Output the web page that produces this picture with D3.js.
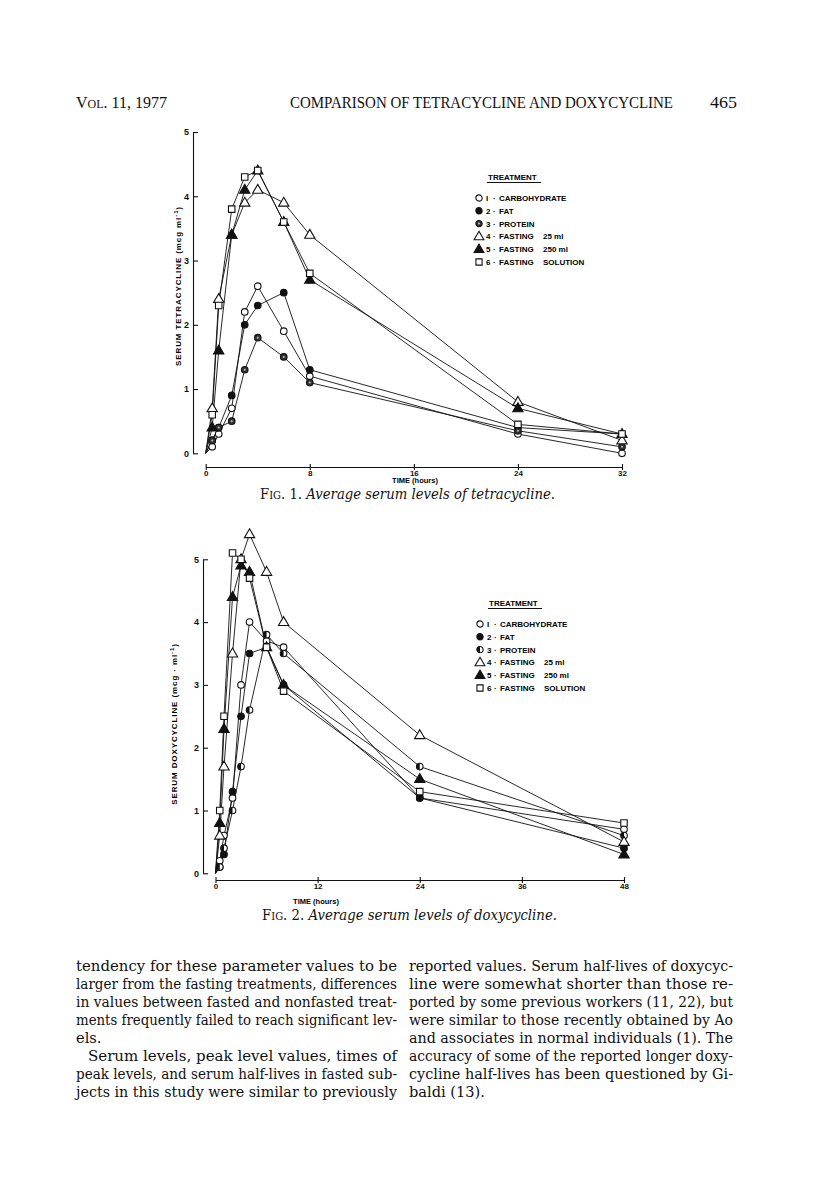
<!DOCTYPE html>
<html>
<head>
<meta charset="utf-8">
<script src="https://cdn.jsdelivr.net/npm/d3@7"></script>
<style>
  body { margin: 0; background: #fff; }
  svg { display: block; }
  .ax text { font-family: "Liberation Sans", Arial, sans-serif; font-weight: bold; font-size: 9px; fill: #111; }
  .ax path, .ax line { stroke: #111; stroke-width: 1.1; }
  .xax text { font-size: 8px; }
  .lbl { font-family: "Liberation Sans", Arial, sans-serif; font-weight: bold; font-size: 8px; fill: #000; }
  .serif { font-family: "DejaVu Serif", "Liberation Serif", serif; fill: #111; }
</style>
</head>
<body>
<div class="page"></div>
<script>
var width = 816, height = 1198;

// ---- data: treatments and legend ----
var treatNums = ["I", "2", "3", "4", "5", "6"];
var treatNames = [["CARBOHYDRATE", ""], ["FAT", ""], ["PROTEIN", ""],
                  ["FASTING", "25 ml"], ["FASTING", "250 ml"], ["FASTING", "SOLUTION"]];
var tetraSymbols = ["openCircle", "filledCircle", "dotCircle", "openTriangle", "filledTriangle", "openSquare"];
var doxySymbols  = ["openCircle", "filledCircle", "halfCircle", "openTriangle", "filledTriangle", "openSquare"];

// ---- Fig 1: tetracycline (mcg/ml) ----
var tetraHours = [0, 0.5, 1, 2, 3, 4, 6, 8, 24, 32];
var tetraCarbohydrate = [0, 0.1, 0.3, 0.7, 2.2, 2.6, 1.9, 1.2, 0.3, 0.0];
var tetraFat          = [0, 0.2, 0.4, 0.9, 2.0, 2.3, 2.5, 1.3, 0.4, 0.3];
var tetraProtein      = [0, 0.2, 0.4, 0.5, 1.3, 1.8, 1.5, 1.1, 0.35, 0.1];
var tetraFasting25    = [0, 0.7, 2.4, 3.4, 3.9, 4.1, 3.9, 3.4, 0.8, 0.2];
var tetraFasting250   = [0, 0.4, 1.6, 3.4, 4.1, 4.4, 3.6, 2.7, 0.7, 0.3];
var tetraSolution     = [0, 0.6, 2.3, 3.8, 4.3, 4.4, 3.6, 2.8, 0.45, 0.3];
var tetraXTicks = [0, 8, 16, 24, 32];

// ---- Fig 2: doxycycline (mcg/ml) ----
var doxyHours = [0, 0.5, 1, 2, 3, 4, 6, 8, 24, 48];
var doxyCarbohydrate = [0, 0.2, 0.6, 1.2, 3.0, 4.0, 3.7, 3.6, 1.2, 0.7];
var doxyFat          = [0, 0.1, 0.3, 1.3, 2.5, 3.5, 3.6, 3.0, 1.2, 0.4];
var doxyProtein      = [0, 0.1, 0.4, 1.0, 1.7, 2.6, 3.8, 3.5, 1.7, 0.6];
var doxyFasting25    = [0, 0.6, 1.7, 3.5, 5.0, 5.4, 4.8, 4.0, 2.2, 0.5];
var doxyFasting250   = [0, 0.8, 2.3, 4.4, 4.9, 4.8, 3.6, 3.0, 1.5, 0.3];
var doxySolution     = [0, 1.0, 2.5, 5.1, 5.0, 4.7, 3.6, 2.9, 1.3, 0.8];
var doxyXTicks = [0, 12, 24, 36, 48];

var yTicks = [0, 1, 2, 3, 4, 5];

// body text lines
var leftLines = [
  "tendency for these parameter values to be",
  "larger from the fasting treatments, differences",
  "in values between fasted and nonfasted treat-",
  "ments frequently failed to reach significant lev-",
  "els.",
  "Serum levels, peak level values, times of",
  "peak levels, and serum half-lives in fasted sub-",
  "jects in this study were similar to previously"
];
var rightLines = [
  "reported values. Serum half-lives of doxycyc-",
  "line were somewhat shorter than those re-",
  "ported by some previous workers (11, 22), but",
  "were similar to those recently obtained by Ao",
  "and associates in normal individuals (1). The",
  "accuracy of some of the reported longer doxy-",
  "cycline half-lives has been questioned by Gi-",
  "baldi (13)."
];

var svg = d3.select(".page").append("svg")
  .attr("width", width).attr("height", height);

// draw one marker symbol
function marker(g, type, x, y, s) {
  s = s || 1;
  var r = 3.3 * s;
  if (type == "openCircle" || type == "filledCircle" || type == "dotCircle") {
    g.append("circle").attr("cx", x).attr("cy", y).attr("r", r)
      .attr("fill", type == "openCircle" ? "#fff" : (type == "dotCircle" ? "#333" : "#111"))
      .attr("stroke", "#111").attr("stroke-width", 1.1);
    if (type == "dotCircle") {
      g.append("circle").attr("cx", x).attr("cy", y).attr("r", 1).attr("fill", "#bbb");
    }
  } else if (type == "halfCircle") {
    g.append("circle").attr("cx", x).attr("cy", y).attr("r", r)
      .attr("fill", "#fff").attr("stroke", "#111").attr("stroke-width", 1.1);
    g.append("path")
      .attr("d", "M" + x + "," + (y - r) + " A" + r + "," + r + " 0 0 0 " + x + "," + (y + r) + " Z")
      .attr("fill", "#111");
  } else if (type == "openTriangle" || type == "filledTriangle") {
    g.append("path")
      .attr("d", d3.symbol().type(d3.symbolTriangle).size(46 * s * s)())
      .attr("transform", "translate(" + x + "," + (y + 0.5) + ")")
      .attr("fill", type == "filledTriangle" ? "#111" : "#fff")
      .attr("stroke", "#111").attr("stroke-width", 1.1);
  } else {
    g.append("path")
      .attr("d", d3.symbol().type(d3.symbolSquare).size(42 * s * s)())
      .attr("transform", "translate(" + x + "," + y + ")")
      .attr("fill", "#fff").attr("stroke", "#111").attr("stroke-width", 1.1);
  }
}

function drawChart(opt) {
  var g = svg.append("g");
  var x = d3.scaleLinear().domain(opt.xDomain).range(opt.xRange);
  var y = d3.scaleLinear().domain([0, 5]).range(opt.yRange);

  // y axis, ticks pointing inward
  g.append("g").attr("class", "ax")
    .attr("transform", "translate(" + opt.yAxisX + ",0)")
    .call(d3.axisLeft(y).tickValues(yTicks).tickSizeInner(-5).tickSizeOuter(0).tickPadding(4).tickFormat(d3.format("d")));

  // x axis, ticks crossing the line
  var xa = g.append("g").attr("class", "ax xax")
    .attr("transform", "translate(0," + opt.xAxisY + ")")
    .call(d3.axisBottom(x).tickValues(opt.xTicks).tickSizeInner(3).tickSizeOuter(0).tickPadding(0).tickFormat(d3.format("d")));
  xa.selectAll(".tick line").attr("y1", -3);

  g.append("text").attr("class", "lbl")
    .attr("x", opt.timeX).attr("y", opt.timeY)
    .attr("text-anchor", "middle")
    .style("font-size", "7.5px")
    .text("TIME  (hours)");

  g.append("text").attr("class", "lbl")
    .attr("transform", "translate(" + opt.yLabelX + "," + opt.yLabelY + ") rotate(-90)")
    .attr("text-anchor", "middle")
    .style("letter-spacing", "0.9px")
    .html(opt.yLabel);

  var line = d3.line()
    .x(function(d) { return x(d[0]); })
    .y(function(d) { return y(d[1]); });

  opt.series.forEach(function(vals, i) {
    var pts = opt.hours.map(function(h, j) { return [h, vals[j]]; });
    g.append("path").datum(pts)
      .attr("d", line)
      .attr("fill", "none").attr("stroke", "#111").attr("stroke-width", 0.9);
  });
  opt.series.forEach(function(vals, i) {
    opt.hours.forEach(function(h, j) {
      if (j == 0) return;
      marker(g, opt.symbols[i], x(h), y(vals[j]));
    });
  });

  // legend
  var lg = g.append("g").attr("transform", "translate(" + opt.legendX + "," + opt.legendY + ")");
  lg.append("text").attr("class", "lbl").attr("x", 9).attr("y", 0).text("TREATMENT");
  lg.append("line").attr("x1", 8).attr("x2", 62).attr("y1", 2.5).attr("y2", 2.5)
    .attr("stroke", "#111").attr("stroke-width", 1);
  treatNums.forEach(function(n, i) {
    var ry = 21 + i * 12.8;
    marker(lg, opt.symbols[i], 0, ry - 3, 0.95);
    lg.append("text").attr("class", "lbl").attr("x", 7).attr("y", ry).text(n);
    lg.append("text").attr("class", "lbl").attr("x", 14).attr("y", ry).text("\u00b7");
    lg.append("text").attr("class", "lbl").attr("x", 20).attr("y", ry).text(treatNames[i][0]);
    lg.append("text").attr("class", "lbl").attr("x", opt.legendCol2).attr("y", ry)
      .text(treatNames[i][1]);
  });
}

drawChart({
  hours: tetraHours,
  series: [tetraCarbohydrate, tetraFat, tetraProtein, tetraFasting25, tetraFasting250, tetraSolution],
  symbols: tetraSymbols,
  xDomain: [0, 32], xRange: [205.7, 622],
  yRange: [453.3, 132],
  xTicks: tetraXTicks,
  yAxisX: 193, xAxisY: 467,
  timeX: 415, timeY: 483,
  yLabelX: 181, yLabelY: 286,
  yLabel: "SERUM  TETRACYCLINE  (mcg  ml<tspan dy='-3' font-size='6'>-1</tspan><tspan dy='3'>)</tspan>",
  legendX: 479, legendY: 180, legendCol2: 64
});

drawChart({
  hours: doxyHours,
  series: [doxyCarbohydrate, doxyFat, doxyProtein, doxyFasting25, doxyFasting250, doxySolution],
  symbols: doxySymbols,
  xDomain: [0, 48], xRange: [215.5, 624],
  yRange: [873.3, 559.3],
  xTicks: doxyXTicks,
  yAxisX: 203, xAxisY: 880,
  timeX: 316, timeY: 904,
  yLabelX: 177, yLabelY: 724,
  yLabel: "SERUM  DOXYCYCLINE  (mcg \u00b7 ml<tspan dy='-3' font-size='6'>-1</tspan><tspan dy='3'>)</tspan>",
  legendX: 480, legendY: 606, legendCol2: 64
});

// running head
var head = svg.append("g").attr("class", "serif").style("font-family", "'Liberation Serif', serif").style("font-size", "16px");
head.append("text").attr("x", 76).attr("y", 108)
  .html("V<tspan font-size='12'>OL</tspan>. 11, 1977");
head.append("text").attr("x", 290).attr("y", 108)
  .attr("textLength", 383).attr("lengthAdjust", "spacingAndGlyphs")
  .text("COMPARISON OF TETRACYCLINE AND DOXYCYCLINE");
head.append("text").attr("x", 710).attr("y", 108)
  .attr("textLength", 27).attr("lengthAdjust", "spacingAndGlyphs")
  .text("465");

// figure captions
function caption(xp, yp, num, rest, len) {
  svg.append("text").attr("class", "serif")
    .attr("x", xp).attr("y", yp)
    .attr("textLength", len).attr("lengthAdjust", "spacingAndGlyphs")
    .style("font-size", "14px")
    .html("F<tspan font-size='10.5'>IG</tspan>. " + num + ". <tspan font-style='italic'>" + rest + "</tspan>");
}
caption(260, 499, "1", "Average serum levels of tetracycline.", 295);
caption(262, 920, "2", "Average serum levels of doxycycline.", 295);

// body text, two justified columns
function column(lines, x0, w, noJustify, indent) {
  lines.forEach(function(t, i) {
    var xi = x0 + (indent.indexOf(i) >= 0 ? 12 : 0);
    var el = svg.append("text").attr("class", "serif")
      .attr("x", xi).attr("y", 971 + i * 18)
      .style("font-size", "14.6px")
      .text(t);
    if (noJustify.indexOf(i) < 0) {
      el.attr("textLength", w - (xi - x0)).attr("lengthAdjust", "spacingAndGlyphs");
    }
  });
}
column(leftLines, 76, 321, [4], [5]);
column(rightLines, 409, 324, [7], []);
</script>
</body>
</html>
